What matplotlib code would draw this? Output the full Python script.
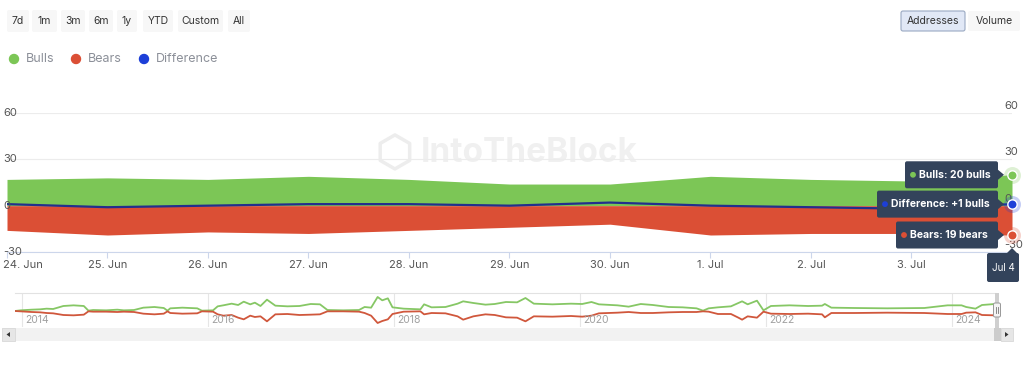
import matplotlib.pyplot as plt
import matplotlib.transforms as mtransforms
from matplotlib.patches import FancyBboxPatch, Rectangle, Circle, Polygon
import numpy as np
import pandas as pd

plt.rcParams['font.family'] = ['Inter', 'DejaVu Sans']

# main window: daily bulls / bears addresses
dates = pd.to_datetime(['2024-06-24', '2024-06-25', '2024-06-26', '2024-06-27',
                        '2024-06-28', '2024-06-29', '2024-06-30', '2024-07-01',
                        '2024-07-02', '2024-07-03', '2024-07-04'])
bulls = [17, 18, 17, 19, 17, 14, 14, 19, 17, 16, 20]
bears = [16, 19, 17, 18, 16, 14, 12, 19, 18, 18, 19]
difference = np.array(bulls) - np.array(bears)

# navigator (full history), decimal years
nav_years = [2013.92, 2013.98, 2014.10, 2014.19, 2014.26, 2014.33, 2014.44, 2014.55,
             2014.66, 2014.71, 2014.76, 2014.90, 2015.02, 2015.09, 2015.20, 2015.30,
             2015.42, 2015.52, 2015.56, 2015.59, 2015.72, 2015.88, 2015.93, 2016.05,
             2016.10, 2016.16, 2016.25, 2016.32, 2016.38, 2016.45, 2016.50, 2016.56,
             2016.63, 2016.72, 2016.85, 2016.98, 2017.10, 2017.20, 2017.28, 2017.45,
             2017.62, 2017.68, 2017.75, 2017.82, 2017.87, 2017.93, 2017.98, 2018.10,
             2018.28, 2018.32, 2018.40, 2018.55, 2018.68, 2018.74, 2018.85, 2018.98,
             2019.08, 2019.20, 2019.32, 2019.41, 2019.50, 2019.70, 2019.90, 2020.02,
             2020.12, 2020.20, 2020.40, 2020.52, 2020.65, 2020.78, 2020.95, 2021.10,
             2021.25, 2021.32, 2021.38, 2021.48, 2021.62, 2021.70, 2021.74, 2021.80,
             2021.90, 2021.97, 2022.05, 2022.25, 2022.45, 2022.60, 2022.63, 2022.70,
             2022.95, 2023.30, 2023.70, 2023.95, 2024.10, 2024.15, 2024.25, 2024.32,
             2024.46]
nav_bulls = [0, 2, 4, 5, 7, 6, 15, 17, 15, 1, 3, 2, 4, 2, 3, 10,
             12, 9, 1, 8, 10, 8, 1, 2, 14, 17, 22, 18, 28, 20, 25, 15,
             34, 16, 14, 15, 21, 20, 3, 2, 3, 12, 10, 42, 32, 38, 11, 7,
             5, 20, 11, 12, 22, 29, 24, 19, 21, 27, 26, 39, 22, 20, 22, 21,
             27, 20, 17, 13, 21, 18, 12, 11, 8, 1, 8, 11, 14, 24, 29, 20,
             31, 2, 15, 17, 15, 16, 21, 10, 9, 8, 9, 17, 17, 12, 7, 18, 21]
nav_bears = [0, 1, 3, 4, 6, 7, 12, 13, 11, 1, 2, 2, 3, 2, 3, 8,
             10, 8, 1, 6, 8, 7, 1, 2, 10, 14, 12, 20, 25, 14, 18, 16,
             31, 10, 9, 12, 11, 10, 1, 1, 2, 6, 14, 36, 30, 25, 9, 2,
             1, 10, 6, 7, 16, 26, 16, 10, 12, 19, 20, 31, 16, 17, 15, 17,
             14, 7, 5, 3, 6, 6, 4, 3, 3, 1, 2, 9, 9, 20, 26, 16,
             20, 2, 8, 9, 8, 10, 19, 6, 6, 5, 6, 9, 9, 5, 4, 12, 13]
nav_year_ticks = [2014, 2016, 2018, 2020, 2022, 2024]

y_ticks = [-30, 0, 30, 60]
range_buttons = ['7d', '1m', '3m', '6m', '1y', 'YTD', 'Custom', 'All']
button_boxes = [(7, 29), (32, 57), (61, 85), (89, 113), (117, 137), (143, 173), (178, 223), (228, 250)]

GREEN, RED, BLUE = '#7cc656', '#db4f35', '#1d3fd8'
LINE_BLUE = '#22308c'
TIP_BG = '#33435b'

W, H = 1024, 369


def px(x0, y0, x1, y1):
    return [x0 / W, 1 - y1 / H, (x1 - x0) / W, (y1 - y0) / H]


fig = plt.figure(figsize=(W / 100, H / 100), dpi=100)

# ---- main chart
ax = fig.add_axes(px(7, 113, 1012, 252))
ax.fill_between(dates, 0, bulls, color=GREEN, lw=0, zorder=2)
ax.fill_between(dates, 0, -np.array(bears), color=RED, lw=0, zorder=2)
ax.plot(dates, difference, color=LINE_BLUE, lw=1.6, zorder=3)
ax.set_xlim(dates[0], dates[-1])
ax.set_ylim(-30, 60)
ax.set_yticks(y_ticks)
ax.tick_params(axis='y', length=0, labelleft=False)
ax.grid(axis='y', color='#ececec', lw=0.8, zorder=0)
for s in ['top', 'left', 'right']:
    ax.spines[s].set_visible(False)
ax.spines['bottom'].set_color('#ccd6eb')
ax.set_xticks(dates[:-1])
ax.set_xticklabels([f'{d.day}. {d.strftime("%b")}' for d in dates[:-1]])
ax.tick_params(axis='x', length=4, color='#ccd6eb', labelsize=8, labelcolor='#555555', pad=2)
first = ax.get_xticklabels()[0]
first.set_ha('left')
first.set_transform(first.get_transform() + mtransforms.Affine2D().translate(-4, 0))

# watermark
ax.text(0.52, 0.71, 'IntoTheBlock', transform=ax.transAxes, ha='center', va='center',
        fontsize=24, fontweight='bold', color='#f0f0f0', zorder=1)
ax.scatter([0.386], [0.72], transform=ax.transAxes, marker='h', s=600,
           fc='none', ec='#ededed', lw=2.5, zorder=1)

# y labels on both sides
ytr = ax.get_yaxis_transform()
for v in y_ticks:
    ax.text(-0.004, v, str(v), transform=ytr, ha='left', va='center', fontsize=8,
            color='#555555', zorder=4, clip_on=False)
    ax.text(0.9925, v, str(v), ha='left', va='center', fontsize=8, color='#555555',
            zorder=4, clip_on=False,
            transform=mtransforms.offset_copy(ytr, fig=fig, y=7, units='dots'))

# hover markers on last point
last = dates[-1]
for val, col in [(bulls[-1], GREEN), (difference[-1], BLUE), (-bears[-1], RED)]:
    ax.scatter([last], [val], s=150, color=col, alpha=0.25, lw=0, zorder=6, clip_on=False)
    ax.scatter([last], [val], s=45, color=col, edgecolor='white', lw=1, zorder=7, clip_on=False)

# ---- navigator
nav = fig.add_axes(px(15, 293, 995, 327))
nav.plot(nav_years, nav_bulls, color='#86c765', lw=1.3)
nav.plot(nav_years, -np.array(nav_bears), color='#d0573c', lw=1.3)
nav.set_xlim(nav_years[0], nav_years[-1])
nav.set_ylim(-48, 54)
nav.set_xticks(nav_year_ticks)
nav.set_yticks([])
nav.tick_params(axis='x', length=0, labelbottom=False)
nav.grid(axis='x', color='#e6e6e6', lw=0.8)
for s in ['left', 'right', 'bottom']:
    nav.spines[s].set_visible(False)
nav.spines['top'].set_color('#e2e2e2')
xtr = nav.get_xaxis_transform()
for yr in nav_year_ticks:
    nav.text(yr, 0.2, str(yr), transform=mtransforms.offset_copy(xtr, fig=fig, x=3, units='dots'),
             ha='left', va='center', fontsize=7.5, color='#a0a0a0')

# ---- overlay in pixel coordinates
ov = fig.add_axes([0, 0, 1, 1], zorder=10)
ov.set_xlim(0, W)
ov.set_ylim(H, 0)
ov.axis('off')
ov.patch.set_alpha(0)

for label, (x0, x1) in zip(range_buttons, button_boxes):
    ov.add_patch(FancyBboxPatch((x0, 10), x1 - x0, 22, boxstyle='round,pad=0,rounding_size=2',
                                fc='#f7f7f7', ec='none'))
    ov.text((x0 + x1) / 2, 21, label, ha='center', va='center', fontsize=7.5, color='#333333')
ov.add_patch(FancyBboxPatch((901, 11), 64, 20, boxstyle='round,pad=0,rounding_size=2',
                            fc='#e1e8f6', ec='#9aa9c2', lw=0.8))
ov.text(933, 21, 'Addresses', ha='center', va='center', fontsize=7.5, color='#333333')
ov.add_patch(FancyBboxPatch((968, 11), 52, 20, boxstyle='round,pad=0,rounding_size=2',
                            fc='#f7f7f7', ec='none'))
ov.text(994, 21, 'Volume', ha='center', va='center', fontsize=7.5, color='#333333')

# legend
for cx, tx, col, name in [(14, 26, GREEN, 'Bulls'), (76, 88, RED, 'Bears'), (144, 156, BLUE, 'Difference')]:
    ov.add_patch(Circle((cx, 59), 4.5, color=col))
    ov.text(tx, 58.5, name, ha='left', va='center', fontsize=9, color='#8c9099')

# tooltips anchored to the data points
fig.canvas.draw()


def to_px(x, y):
    dx, dy = ax.transData.transform((ax.xaxis.convert_units(x), y))
    return dx, H - dy


tips = [(bulls[-1], GREEN, f'Bulls: {bulls[-1]} bulls', 905),
        (difference[-1], BLUE, f'Difference: {difference[-1]:+d} bulls', 877),
        (-bears[-1], RED, f'Bears: {bears[-1]} bears', 896)]
for val, col, txt, x0 in tips:
    mx, my = to_px(last, val)
    x1 = mx - 14
    ov.add_patch(FancyBboxPatch((x0, my - 13.5), x1 - x0, 27, boxstyle='round,pad=0,rounding_size=2',
                                fc=TIP_BG, ec='none'))
    ov.add_patch(Polygon([(x1, my - 5), (x1 + 6, my), (x1, my + 5)], closed=True, fc=TIP_BG, ec='none'))
    ov.add_patch(Circle((x0 + 8, my), 2.2, color=col))
    ov.text(x0 + 14, my, txt, ha='left', va='center', fontsize=7.5, fontweight='bold', color='white')

jx, _ = to_px(last, 0)
_, jy = to_px(last, -30)
ov.add_patch(FancyBboxPatch((jx - 25, jy + 1), 32, 29, boxstyle='round,pad=0,rounding_size=2',
                            fc=TIP_BG, ec='none'))
ov.add_patch(Polygon([(jx - 5, jy + 1), (jx, jy - 4), (jx + 5, jy + 1)], closed=True, fc=TIP_BG, ec='none'))
ov.text(jx - 9, jy + 16, f'{last.strftime("%b")} {last.day}', ha='center', va='center',
        fontsize=7, color='white')

# navigator handle and scrollbar
ov.add_patch(Rectangle((995, 293), 4, 36, fc='#cfcfcf', ec='none'))
ov.add_patch(FancyBboxPatch((993.5, 303), 7, 14, boxstyle='round,pad=0,rounding_size=1.5',
                            fc='#f4f4f4', ec='#999999', lw=0.7))
ov.plot([996, 996], [307, 313], color='#777777', lw=0.6)
ov.plot([998, 998], [307, 313], color='#777777', lw=0.6)
ov.add_patch(Rectangle((2, 328), 1010, 13, fc='#f2f2f2', ec='none'))
ov.add_patch(Rectangle((2, 328), 13, 13, fc='#e6e6e6', ec='#d8d8d8', lw=0.6))
ov.add_patch(Polygon([(10, 332), (6.5, 334.5), (10, 337)], closed=True, fc='#333333'))
ov.add_patch(Rectangle((994, 328), 7, 13, fc='#cccccc', ec='none'))
ov.add_patch(Rectangle((1001, 328), 12, 13, fc='#e6e6e6', ec='#d8d8d8', lw=0.6))
ov.add_patch(Polygon([(1005, 332), (1008.5, 334.5), (1005, 337)], closed=True, fc='#333333'))

fig.savefig('out.png', dpi=100)
